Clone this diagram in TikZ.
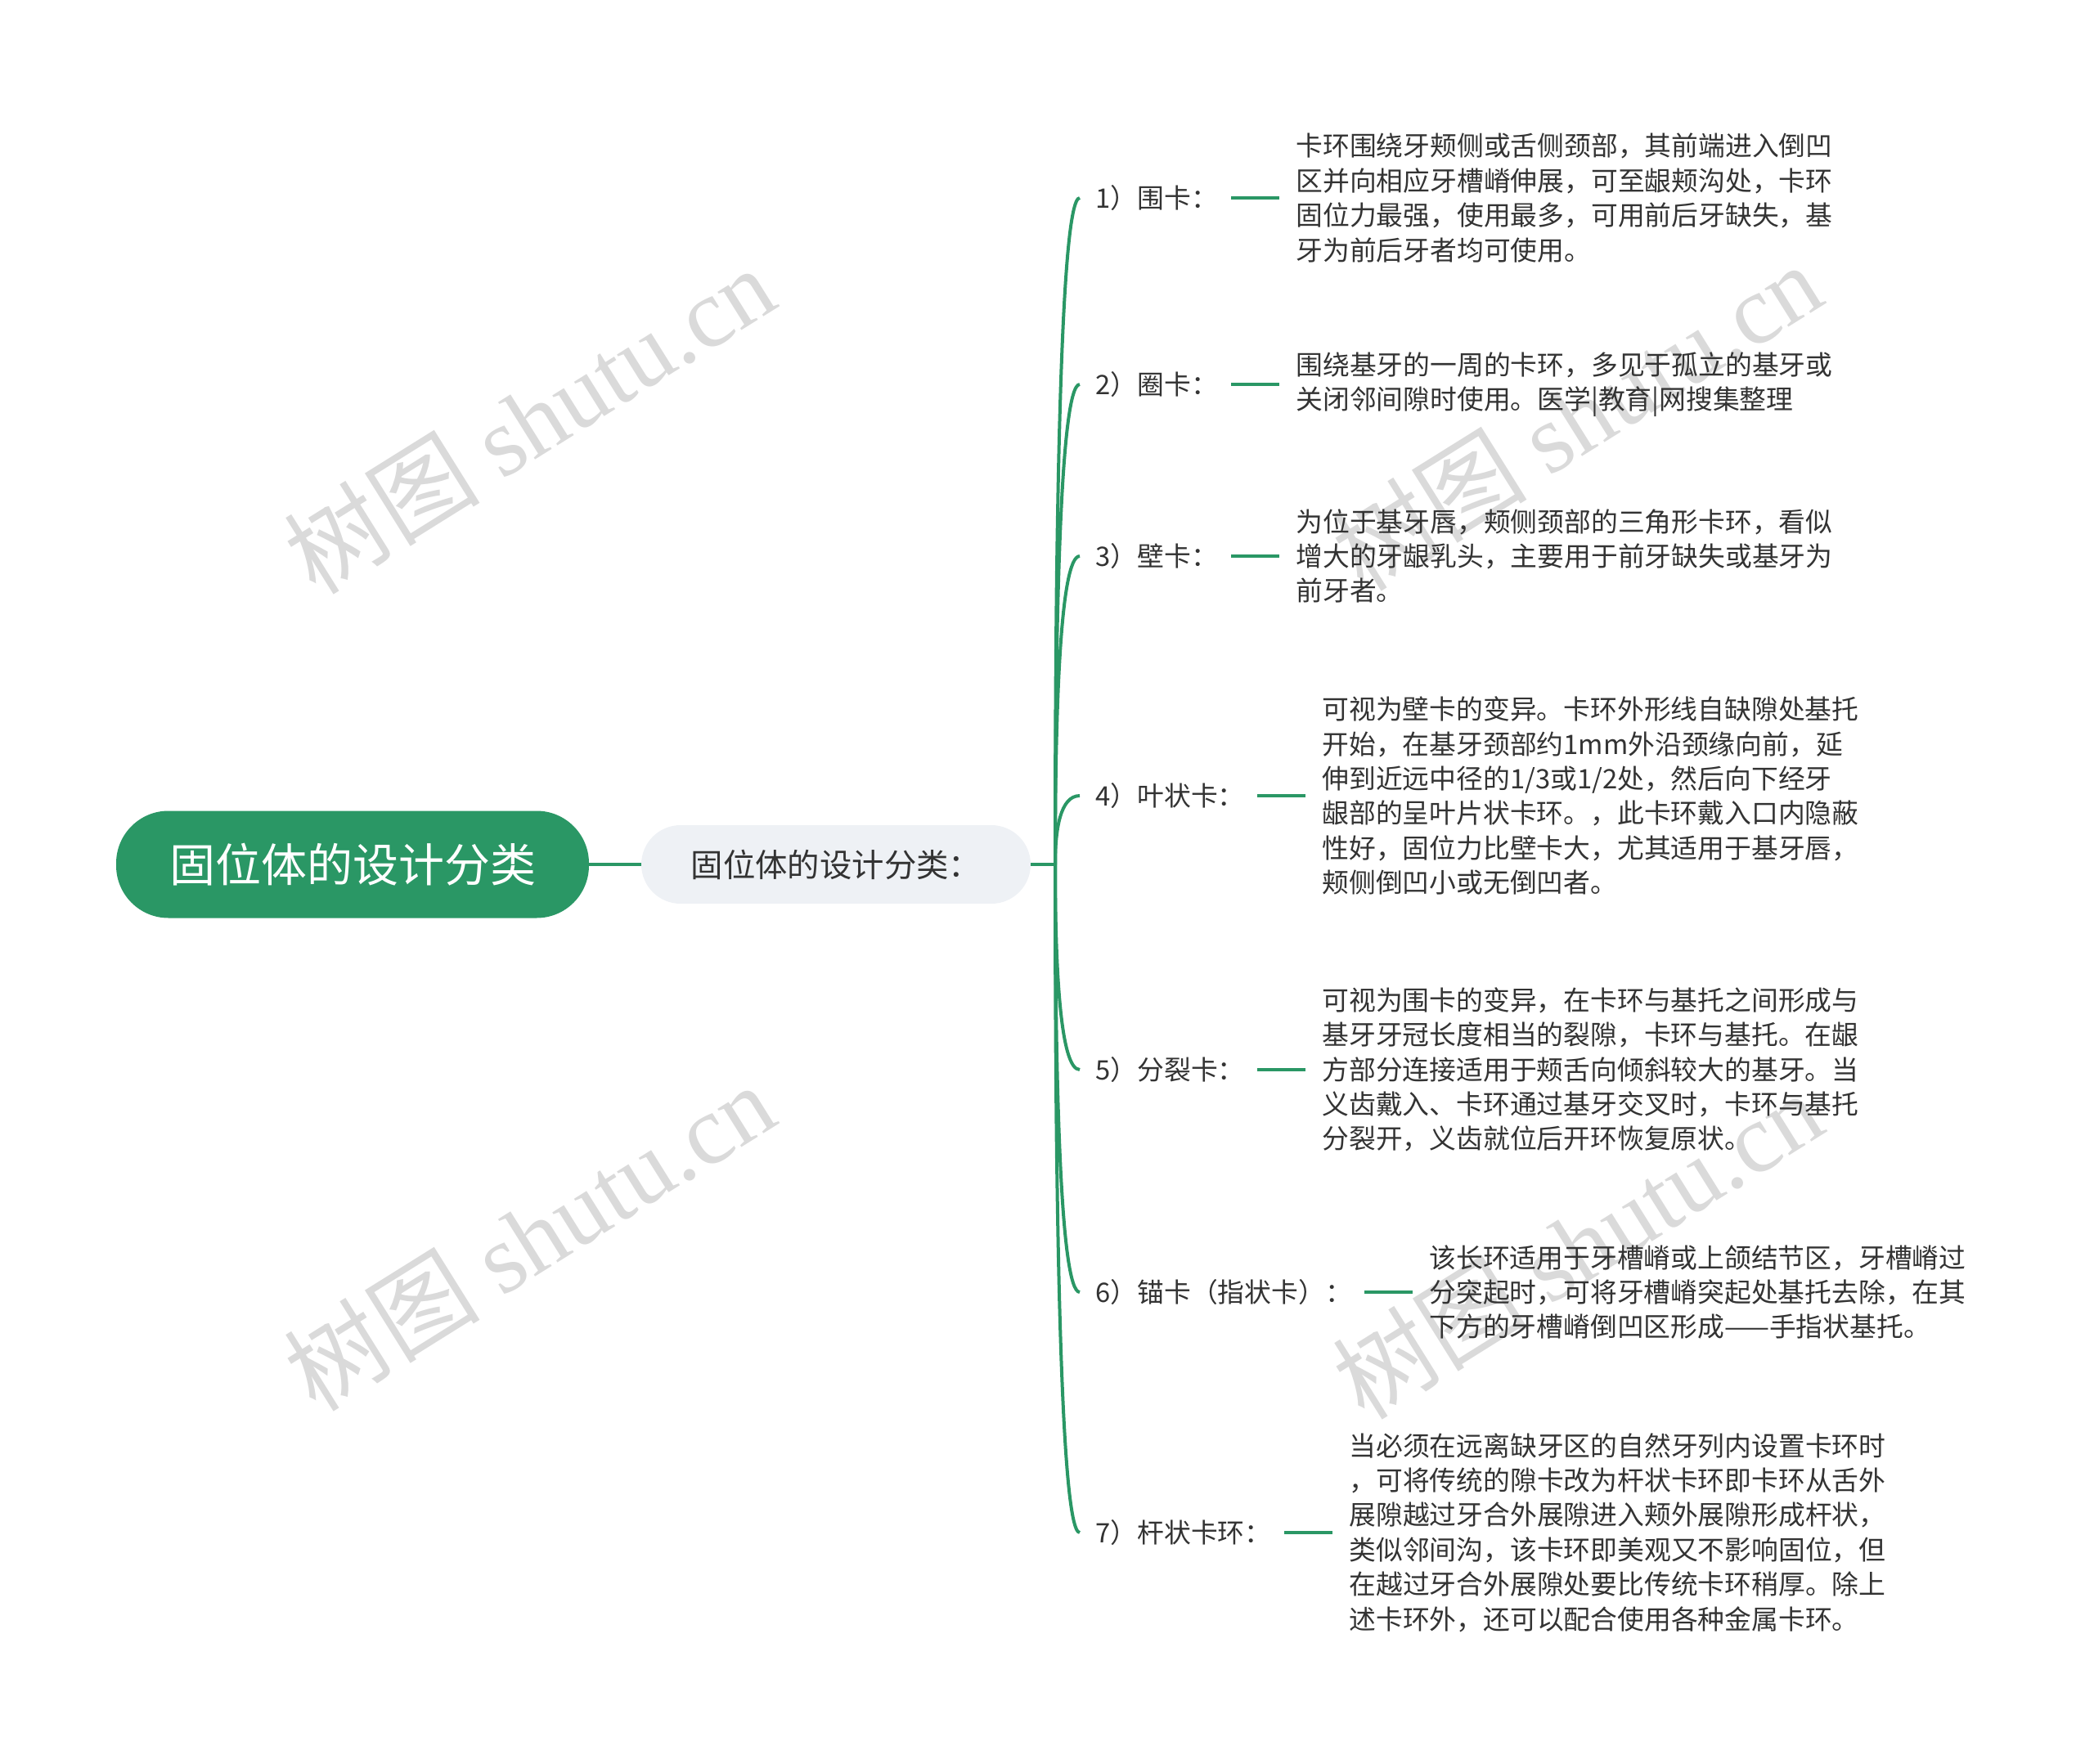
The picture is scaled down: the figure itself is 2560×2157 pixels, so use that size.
\documentclass[tikz,border=0pt]{standalone}
\usepackage{fontspec}
\setmainfont{Noto Sans CJK SC}
\newfontfamily\wmlatin{Liberation Serif}
\definecolor{mgreen}{HTML}{2A9765}
\definecolor{subfill}{HTML}{EEF1F5}
\definecolor{txt}{HTML}{333333}
\definecolor{wmgray}{HTML}{DADADA}
\tikzset{
  rootbox/.style={fill=mgreen, text=white, rounded corners=32pt, minimum width=289pt,
    minimum height=65.5pt, inner sep=0pt, font=\fontsize{28}{34}\selectfont},
  subbox/.style={fill=subfill, text=txt, rounded corners=24pt, minimum width=238pt,
    minimum height=48pt, inner sep=0pt, font=\fontsize{19.7}{24}\selectfont},
  itemlbl/.style={anchor=west, inner sep=0pt, text=txt, font=\fontsize{16.4}{21.2}\selectfont},
  desc/.style={anchor=west, inner sep=0pt, align=left, text=txt, font=\fontsize{16.4}{21.2}\selectfont},
  branch/.style={draw=mgreen, line width=2pt},
  stub/.style={draw=mgreen, line width=2.4pt},
  watermark/.style={text=wmgray, rotate=32, inner sep=0pt, font=\fontsize{60}{60}\selectfont}
}
\begin{document}
\begin{tikzpicture}[x=0.5pt, y=-0.5pt]
    \useasboundingbox (0,0) rectangle (2560,2157);
    % Watermarks
    \node[watermark] (w1) at (647,513) {树图 {\wmlatin shutu.cn}};
    \node[watermark] (w2) at (647,1512) {树图 {\wmlatin shutu.cn}};
    \node[watermark] (w3) at (1927,509) {树图 {\wmlatin shutu.cn}};
    \node[watermark] (w4) at (1928,1522) {树图 {\wmlatin shutu.cn}};
    % Root and first level
    \node[rootbox] (root) at (431,1057) {固位体的设计分类};
    \node[subbox] (sub) at (1022,1057) {固位体的设计分类：};
    \coordinate (j) at (1290,1057);
    \draw[branch] (root) -- (sub);
    \draw[branch] (sub) -- (j);
    % 1) Wei ka
    \coordinate (e1) at (1320,242);
    \node[itemlbl] (l1) at (1339,242) {1）围卡：};
    \node[desc] (t1) at (1584,242) {卡环围绕牙颊侧或舌侧颈部，其前端进入倒凹\\区并向相应牙槽嵴伸展，可至龈颊沟处，卡环\\固位力最强，使用最多，可用前后牙缺失，基\\牙为前后牙者均可使用。};
    \draw[branch] (j) .. controls (1290,650) and (1296,242) .. (e1);
    \draw[stub] ([xshift=-39.5pt]t1.west) -- ([xshift=-10pt]t1.west);
    % 2) Quan ka
    \coordinate (e2) at (1320,470);
    \node[itemlbl] (l2) at (1339,470) {2）圈卡：};
    \node[desc] (t2) at (1584,470) {围绕基牙的一周的卡环，多见于孤立的基牙或\\关闭邻间隙时使用。医学|教育|网搜集整理};
    \draw[branch] (j) .. controls (1290,764) and (1296,470) .. (e2);
    \draw[stub] ([xshift=-39.5pt]t2.west) -- ([xshift=-10pt]t2.west);
    % 3) Bi ka
    \coordinate (e3) at (1320,680);
    \node[itemlbl] (l3) at (1339,680) {3）壁卡：};
    \node[desc] (t3) at (1584,680) {为位于基牙唇，颊侧颈部的三角形卡环，看似\\增大的牙龈乳头，主要用于前牙缺失或基牙为\\前牙者。};
    \draw[branch] (j) .. controls (1290,869) and (1296,680) .. (e3);
    \draw[stub] ([xshift=-39.5pt]t3.west) -- ([xshift=-10pt]t3.west);
    % 4) Ye zhuang ka
    \coordinate (e4) at (1320,973);
    \node[itemlbl] (l4) at (1339,973) {4）叶状卡：};
    \node[desc] (t4) at (1616,973) {可视为壁卡的变异。卡环外形线自缺隙处基托\\开始，在基牙颈部约1mm外沿颈缘向前，延\\伸到近远中径的1/3或1/2处，然后向下经牙\\龈部的呈叶片状卡环。，此卡环戴入口内隐蔽\\性好，固位力比壁卡大，尤其适用于基牙唇，\\颊侧倒凹小或无倒凹者。};
    \draw[branch] (j) .. controls (1290,1015) and (1296,973) .. (e4);
    \draw[stub] ([xshift=-39.5pt]t4.west) -- ([xshift=-10pt]t4.west);
    % 5) Fen lie ka
    \coordinate (e5) at (1320,1308);
    \node[itemlbl] (l5) at (1339,1308) {5）分裂卡：};
    \node[desc] (t5) at (1616,1308) {可视为围卡的变异，在卡环与基托之间形成与\\基牙牙冠长度相当的裂隙，卡环与基托。在龈\\方部分连接适用于颊舌向倾斜较大的基牙。当\\义齿戴入、卡环通过基牙交叉时，卡环与基托\\分裂开，义齿就位后开环恢复原状。};
    \draw[branch] (j) .. controls (1290,1182) and (1296,1308) .. (e5);
    \draw[stub] ([xshift=-39.5pt]t5.west) -- ([xshift=-10pt]t5.west);
    % 6) Mao ka
    \coordinate (e6) at (1320,1580);
    \node[itemlbl] (l6) at (1339,1580) {6）锚卡（指状卡）：};
    \node[desc] (t6) at (1747,1580) {该长环适用于牙槽嵴或上颌结节区，牙槽嵴过\\分突起时，可将牙槽嵴突起处基托去除，在其\\下方的牙槽嵴倒凹区形成——手指状基托。};
    \draw[branch] (j) .. controls (1290,1318) and (1296,1580) .. (e6);
    \draw[stub] ([xshift=-39.5pt]t6.west) -- ([xshift=-10pt]t6.west);
    % 7) Gan zhuang ka huan
    \coordinate (e7) at (1320,1874);
    \node[itemlbl] (l7) at (1339,1874) {7）杆状卡环：};
    \node[desc] (t7) at (1649,1874) {当必须在远离缺牙区的自然牙列内设置卡环时\\，可将传统的隙卡改为杆状卡环即卡环从舌外\\展隙越过牙合外展隙进入颊外展隙形成杆状，\\类似邻间沟，该卡环即美观又不影响固位，但\\在越过牙合外展隙处要比传统卡环稍厚。除上\\述卡环外，还可以配合使用各种金属卡环。};
    \draw[branch] (j) .. controls (1290,1465) and (1296,1874) .. (e7);
    \draw[stub] ([xshift=-39.5pt]t7.west) -- ([xshift=-10pt]t7.west);
\end{tikzpicture}
\end{document}
